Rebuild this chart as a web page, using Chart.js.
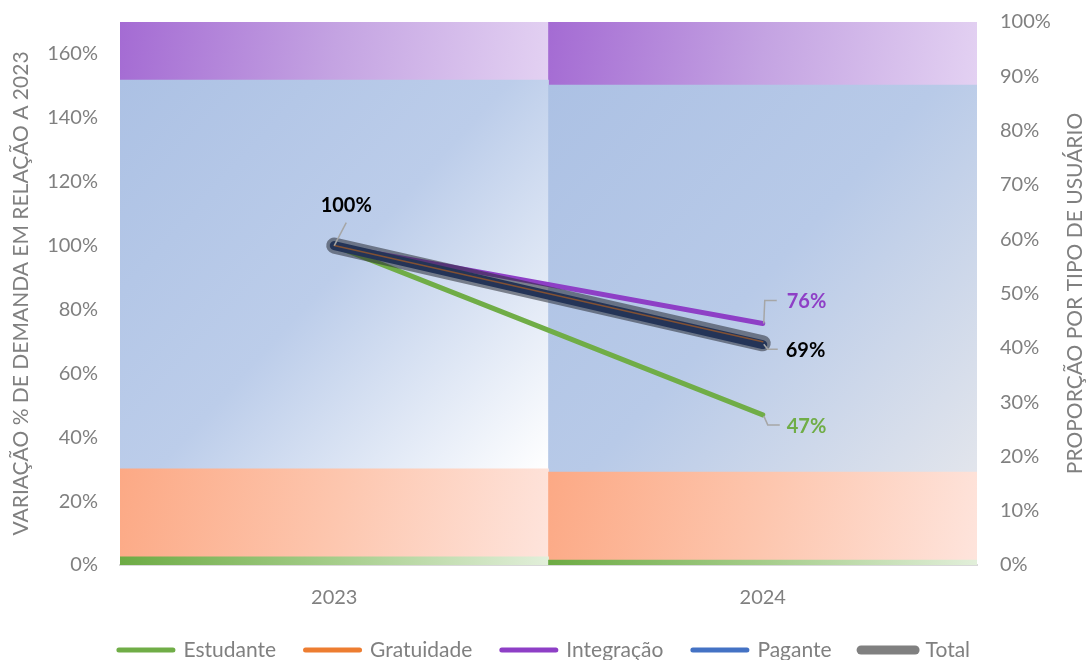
<!DOCTYPE html>
<html>
<head>
<meta charset="utf-8">
<script src="https://cdn.jsdelivr.net/npm/chart.js@4/dist/chart.umd.min.js"></script>
<style>
  html, body { margin: 0; padding: 0; background: #ffffff; }
  #wrap { width: 1089px; height: 660px; position: relative; }
</style>
</head>
<body>
<div id="wrap"><canvas id="chart" width="1089" height="660"></canvas></div>
<script>
// categories
const categories = ['2023', '2024'];

// proportion per user type (right axis, %)
const shareEstudante = [1.5, 0.9];
const shareGratuidade = [16.2, 16.2];
const sharePagante = [71.6, 71.3];
const shareIntegracao = [10.7, 11.6];

// demand variation vs 2023 (left axis, %)
const varEstudante = [100, 47];
const varGratuidade = [100, 69.9];
const varIntegracao = [100, 75.6];
const varPagante = [100, 69.0];
const varTotal = [100, 69.4];

// axis ranges
const leftMax = 170;
const leftStep = 20;
const rightMax = 100;
const rightStep = 10;

const grayText = '#808080';
const fontFamily = 'Lato, "Open Sans", sans-serif';
const rightTitle = 'PROPORÇÃO POR TIPO DE USUÁRIO';

// gradient stops per bar series (top-left -> bottom-right)
function barGradient(stops) {
    return function (context) {
        const chart = context.chart;
        const xs = chart.scales.x;
        const ys = chart.scales.yR;
        if (!chart.chartArea || !xs || !ys || context.type !== 'data') return '#b4c7e7';
        const i = context.dataIndex;
        const di = context.datasetIndex;
        // cumulative value under this segment
        let base = 0;
        for (let k = 0; k < di; k++) {
            const ds = chart.data.datasets[k];
            if (ds.type === 'bar') base += ds.data[i];
        }
        const v = chart.data.datasets[di].data[i];
        const half = xs.width / categories.length / 2;
        const cx = xs.getPixelForValue(i);
        const x0 = cx - half, x1 = cx + half;
        const yTop = ys.getPixelForValue(base + v);
        const yBot = ys.getPixelForValue(base);
        const g = chart.ctx.createLinearGradient(x0, yTop, x1, yBot);
        const s = typeof stops[0][0] === 'number' ? stops : stops[i];
        s.forEach(st => g.addColorStop(st[0], st[1]));
        return g;
    };
}

const barCommon = {
    type: 'bar',
    yAxisID: 'yR',
    stack: 'share',
    order: 10,
    barPercentage: 1,
    categoryPercentage: 1,
    borderWidth: 0
};

const lineCommon = {
    type: 'line',
    yAxisID: 'y',
    pointRadius: 0,
    pointHoverRadius: 0,
    borderCapStyle: 'round',
    borderJoinStyle: 'round',
    tension: 0,
    fill: false
};

// data labels with leader lines + right axis title (reads bottom-to-top)
const labelPlugin = {
    id: 'labels',
    afterDatasetsDraw(chart) {
        const ctx = chart.ctx;
        const find = name => chart.data.datasets.findIndex(d => d.label === name && d.type === 'line');
        const pt = (name, i) => chart.getDatasetMeta(find(name)).data[i];
        ctx.save();
        ctx.strokeStyle = '#a6a6a6';
        ctx.lineWidth = 1.5;
        ctx.font = 'bold 20px ' + fontFamily;
        ctx.textBaseline = 'middle';

        // 100% at 2023
        let p = pt('Total', 0);
        ctx.beginPath();
        ctx.moveTo(p.x, p.y);
        ctx.lineTo(p.x + 12, p.y - 23);
        ctx.stroke();
        ctx.fillStyle = '#000000';
        ctx.textAlign = 'center';
        ctx.fillText(Math.round(varTotal[0]) + '%', p.x + 12, p.y - 40);

        ctx.textAlign = 'left';
        // 76% Integração
        p = pt('Integração', 1);
        ctx.beginPath();
        ctx.moveTo(p.x + 1, p.y);
        ctx.lineTo(p.x + 2, p.y - 23);
        ctx.lineTo(p.x + 14, p.y - 23);
        ctx.stroke();
        ctx.fillStyle = '#8e3fc6';
        ctx.fillText(Math.round(varIntegracao[1]) + '%', p.x + 24, p.y - 22);

        // 69% Total
        p = pt('Total', 1);
        ctx.beginPath();
        ctx.moveTo(p.x + 1, p.y + 1);
        ctx.lineTo(p.x + 5, p.y + 6);
        ctx.lineTo(p.x + 15, p.y + 6);
        ctx.stroke();
        ctx.fillStyle = '#000000';
        ctx.fillText(Math.round(varTotal[1]) + '%', p.x + 23, p.y + 7);

        // 47% Estudante
        p = pt('Estudante', 1);
        ctx.beginPath();
        ctx.moveTo(p.x + 1, p.y + 1);
        ctx.lineTo(p.x + 5, p.y + 10);
        ctx.lineTo(p.x + 17, p.y + 10);
        ctx.stroke();
        ctx.fillStyle = '#70ad47';
        ctx.fillText(Math.round(varEstudante[1]) + '%', p.x + 24, p.y + 12);

        // right axis title
        const area = chart.chartArea;
        ctx.translate(1075, (area.top + area.bottom) / 2);
        ctx.rotate(-Math.PI / 2);
        ctx.font = '21px ' + fontFamily;
        ctx.fillStyle = grayText;
        ctx.textAlign = 'center';
        ctx.fillText(rightTitle, 0, 0);
        ctx.restore();
    }
};

const legendLineWidth = { 'Total': 9 };
const legendColors = {
    'Estudante': '#70ad47', 'Gratuidade': '#ed7d31', 'Integração': '#8e3fc6',
    'Pagante': '#4472c4', 'Total': '#808080'
};

new Chart(document.getElementById('chart'), {
    data: {
        labels: categories,
        datasets: [
            Object.assign({}, barCommon, {
                label: 'Estudante', data: shareEstudante,
                backgroundColor: barGradient([[0, '#6dab44'], [0.5, '#a5cd8a'], [1, '#e2efda']])
            }),
            Object.assign({}, barCommon, {
                label: 'Gratuidade', data: shareGratuidade,
                backgroundColor: barGradient([[0, '#fca985'], [0.5, '#fdc6ae'], [1, '#fee4dc']])
            }),
            Object.assign({}, barCommon, {
                label: 'Pagante', data: sharePagante,
                backgroundColor: barGradient([
                    [[0, '#acc1e4'], [0.5, '#bccdea'], [1, '#ffffff']],
                    [[0, '#acc1e4'], [0.5, '#b8cae8'], [1, '#e2e5ec']]
                ])
            }),
            Object.assign({}, barCommon, {
                label: 'Integração', data: shareIntegracao,
                backgroundColor: barGradient([[0, '#a46bd3'], [0.5, '#c4a3e2'], [1, '#e3d1f2']])
            }),
            Object.assign({}, lineCommon, {
                label: 'Estudante', data: varEstudante,
                borderColor: '#70ad47', borderWidth: 5, order: 5
            }),
            Object.assign({}, lineCommon, {
                label: 'Gratuidade', data: varGratuidade,
                borderColor: '#ed7d31', borderWidth: 1.5, order: 2
            }),
            Object.assign({}, lineCommon, {
                label: 'Integração', data: varIntegracao,
                borderColor: '#8e3fc6', borderWidth: 5, order: 4
            }),
            Object.assign({}, lineCommon, {
                label: 'Pagante', data: varPagante,
                borderColor: '#1f3f80', borderWidth: 9, order: 3
            }),
            Object.assign({}, lineCommon, {
                label: 'Total', data: varTotal,
                borderColor: 'rgba(40,44,52,0.55)', borderWidth: 16, order: 1
            })
        ]
    },
    options: {
        responsive: false,
        animation: false,
        maintainAspectRatio: false,
        devicePixelRatio: 1,
        layout: { padding: { top: 22, left: 0, right: 0, bottom: -10.5 } },
        plugins: {
            tooltip: { enabled: false },
            legend: {
                position: 'bottom',
                labels: {
                    color: grayText,
                    font: { family: fontFamily, size: 21 },
                    usePointStyle: true,
                    pointStyleWidth: 54,
                    padding: 29.5,
                    filter: item => item.datasetIndex >= 4,
                    sort: (a, b) => a.datasetIndex - b.datasetIndex,
                    generateLabels(chart) {
                        const items = Chart.defaults.plugins.legend.labels.generateLabels(chart);
                        return items.map(it => {
                            const ds = chart.data.datasets[it.datasetIndex];
                            it.pointStyle = 'line';
                            it.lineCap = 'round';
                            it.lineWidth = legendLineWidth[ds.label] || 5;
                            it.strokeStyle = legendColors[ds.label];
                            return it;
                        });
                    }
                }
            }
        },
        scales: {
            x: {
                stacked: true,
                offset: true,
                grid: { display: false, drawTicks: false },
                border: { display: true, color: '#d9d9d9', width: 2 },
                ticks: { color: grayText, font: { family: fontFamily, size: 20 }, padding: 21, maxRotation: 0 },
                afterFit(scale) { scale.height = 45; }
            },
            y: {
                position: 'left',
                min: 0,
                max: leftMax,
                grid: { display: false, drawTicks: false },
                border: { display: false },
                ticks: {
                    stepSize: leftStep,
                    color: grayText,
                    font: { family: fontFamily, size: 20 },
                    padding: 22,
                    callback: v => v + '%'
                },
                afterBuildTicks(scale) {
                    scale.ticks = scale.ticks.filter(t => t.value % leftStep === 0);
                },
                title: {
                    display: true,
                    text: 'VARIAÇÃO % DE DEMANDA EM RELAÇÃO A 2023',
                    color: grayText,
                    font: { family: fontFamily, size: 21 },
                    padding: { top: 9, bottom: 0 }
                },
                afterFit(scale) {
                    scale.width = 120;
                    scale.paddingTop = 0;
                    scale.paddingBottom = 0;
                }
            },
            yR: {
                position: 'right',
                stacked: true,
                min: 0,
                max: rightMax,
                grid: { display: false, drawTicks: false },
                border: { display: false },
                ticks: {
                    stepSize: rightStep,
                    color: grayText,
                    font: { family: fontFamily, size: 20 },
                    padding: 23,
                    callback: v => v + '%'
                },
                afterFit(scale) {
                    scale.width = 112;
                    scale.paddingTop = 0;
                    scale.paddingBottom = 0;
                }
            }
        }
    },
    plugins: [labelPlugin]
});
</script>
</body>
</html>
